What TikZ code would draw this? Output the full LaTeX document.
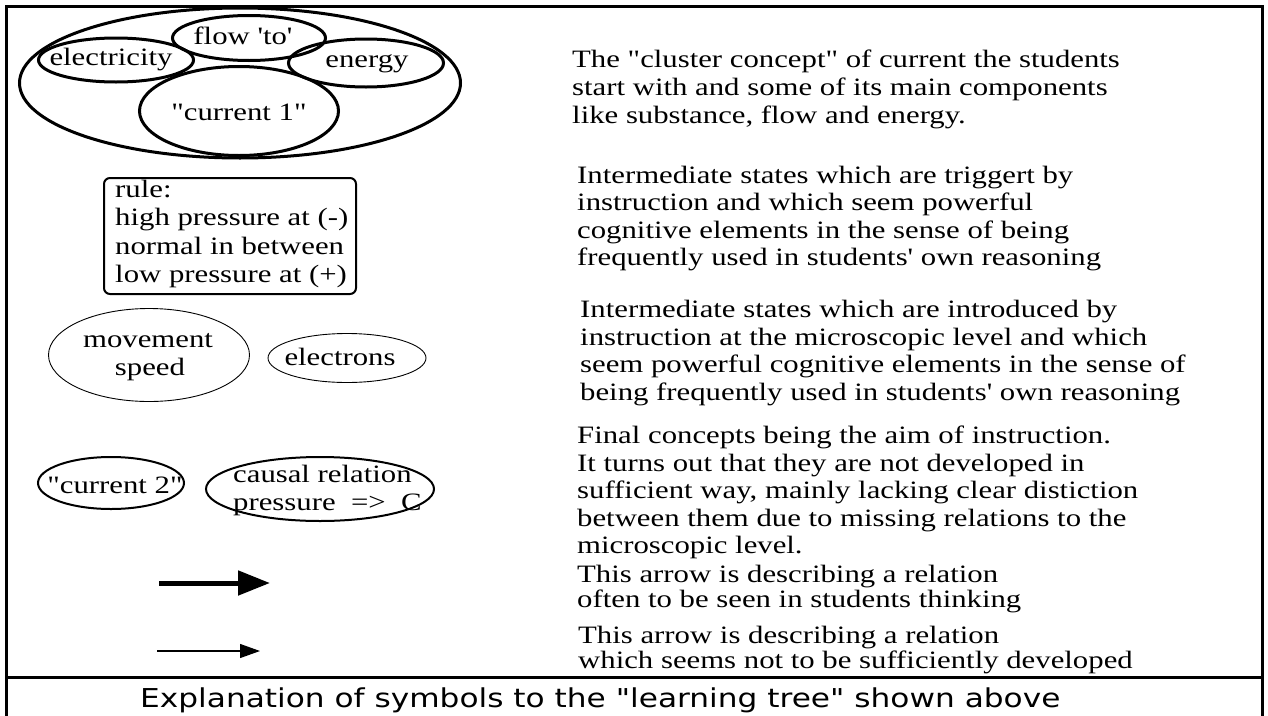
\documentclass[tikz,border=0pt]{standalone}
\usepackage{fontspec}
\newfontfamily\tf[FakeStretch=1.23,Ligatures=TeXOff]{Liberation Serif}
\newfontfamily\cf[FakeStretch=1.2,Ligatures=TeXOff]{DejaVu Sans}
\usetikzlibrary{shapes.geometric,arrows.meta}
\begin{document}
\begin{tikzpicture}[x=1pt,y=-1pt,
  ell/.style={draw, ellipse, inner sep=0pt},
  thickell/.style={ell, line width=3pt},
  midell/.style={ell, line width=2pt},
  thinell/.style={ell, line width=0.9pt},
  txt/.style={font=\tf\fontsize{25}{28}\selectfont, inner sep=0pt},
  lbl/.style={txt, anchor=base},
  desc/.style={inner sep=0pt, anchor=north west, align=left, font=\tf\fontsize{25}{#1}\selectfont},
  desc/.default=27.5,
  framel/.style={line width=3pt},
  strongarrow/.style={line width=5pt, -{Triangle[length=32pt,width=24pt]}},
  weakarrow/.style={line width=1.2pt, -{Triangle[length=20pt,width=14pt]}}
]
\useasboundingbox (0,0) rectangle (1268,715);

% frame
\coordinate (fbl) at (6,717);
\coordinate (ftl) at (6,6);
\coordinate (ftr) at (1262,6);
\coordinate (fbr) at (1262,717);
\coordinate (sl) at (6,677);
\coordinate (sr) at (1262,677);
\draw[framel] (fbl) -- (ftl) -- (ftr) -- (fbr);
\draw[framel] (sl) -- (sr);

% cluster concept
\node[thickell, minimum width=441pt, minimum height=150pt] (cluster) at (240,83) {};
\node[thickell, minimum width=155pt, minimum height=44pt] (elec) at (116,60) {};
\node[thickell, minimum width=153pt, minimum height=45pt] (flow) at (249,38) {};
\node[thickell, minimum width=155pt, minimum height=48pt] (energy) at (366,63) {};
\node[thickell, minimum width=199pt, minimum height=89pt] (cur1) at (239,111) {};
\node[lbl] (telec) at (111,65) {electricity};
\node[lbl] (tflow) at (243,44) {flow 'to'};
\node[lbl] (tenergy) at (367,67) {energy};
\node[lbl] (tcur1) at (239,120) {"current 1"};

% rule box
\node[draw, rounded corners=6pt, line width=2pt, minimum width=252pt, minimum height=116pt, inner sep=0pt] (rule) at (230,236) {};
\node[desc=28.3] (trule) at (115,180) {rule:\\high pressure at (-)\\normal in between\\low pressure at (+)};

% microscopic
\node[thinell, minimum width=201pt, minimum height=93pt] (mov) at (149,355) {};
\node[lbl] (tmov1) at (148,347) {movement};
\node[lbl] (tmov2) at (150,375) {speed};
\node[thinell, minimum width=158pt, minimum height=49pt] (electrons) at (347,358) {};
\node[lbl] (telectrons) at (340,365) {electrons};

% final concepts
\node[midell, minimum width=146pt, minimum height=52pt] (cur2) at (111,483) {};
\node[lbl] (tcur2) at (115,493) {"current 2"};
\node[midell, minimum width=228pt, minimum height=64pt] (causal) at (320,489) {};
\node[txt, anchor=base west] (tcaus1) at (233,482) {causal relation};
\node[txt, anchor=base west] (tcaus2) at (233,510) {pressure\ \ =>\ \ C};

% arrows
\coordinate (a1s) at (159,583);
\coordinate (a1e) at (270,583);
\draw[strongarrow] (a1s) -- (a1e);
\coordinate (a2s) at (157,651);
\coordinate (a2e) at (260,651);
\draw[weakarrow] (a2s) -- (a2e);

% descriptions
\node[desc=28] (d1) at (572,50) {The "cluster concept" of current the students\\start with and some of its main components\\like substance, flow and energy.};
\node[desc=27.3] (d2) at (577,166) {Intermediate states which are triggert by\\instruction and which seem powerful\\cognitive elements in the sense of being\\frequently used in students' own reasoning};
\node[desc=27.7] (d3) at (580,300) {Intermediate states which are introduced by\\instruction at the microscopic level and which\\seem powerful cognitive elements in the sense of\\being frequently used in students' own reasoning};
\node[desc=27.5] (d4) at (577,426) {Final concepts being the aim of instruction.\\It turns out that they are not developed in\\sufficient way, mainly lacking clear distiction\\between them due to missing relations to the\\microscopic level.};
\node[desc=25] (d5) at (577,565) {This arrow is describing a relation\\often to be seen in students thinking};
\node[desc=25] (d6) at (578,626) {This arrow is describing a relation\\which seems not to be sufficiently developed};

% caption
\node[inner sep=0pt, anchor=base west, font=\cf\fontsize{26}{30}\selectfont] (caption) at (140,707) {Explanation of symbols to the "learning tree" shown above};
\end{tikzpicture}
\end{document}
